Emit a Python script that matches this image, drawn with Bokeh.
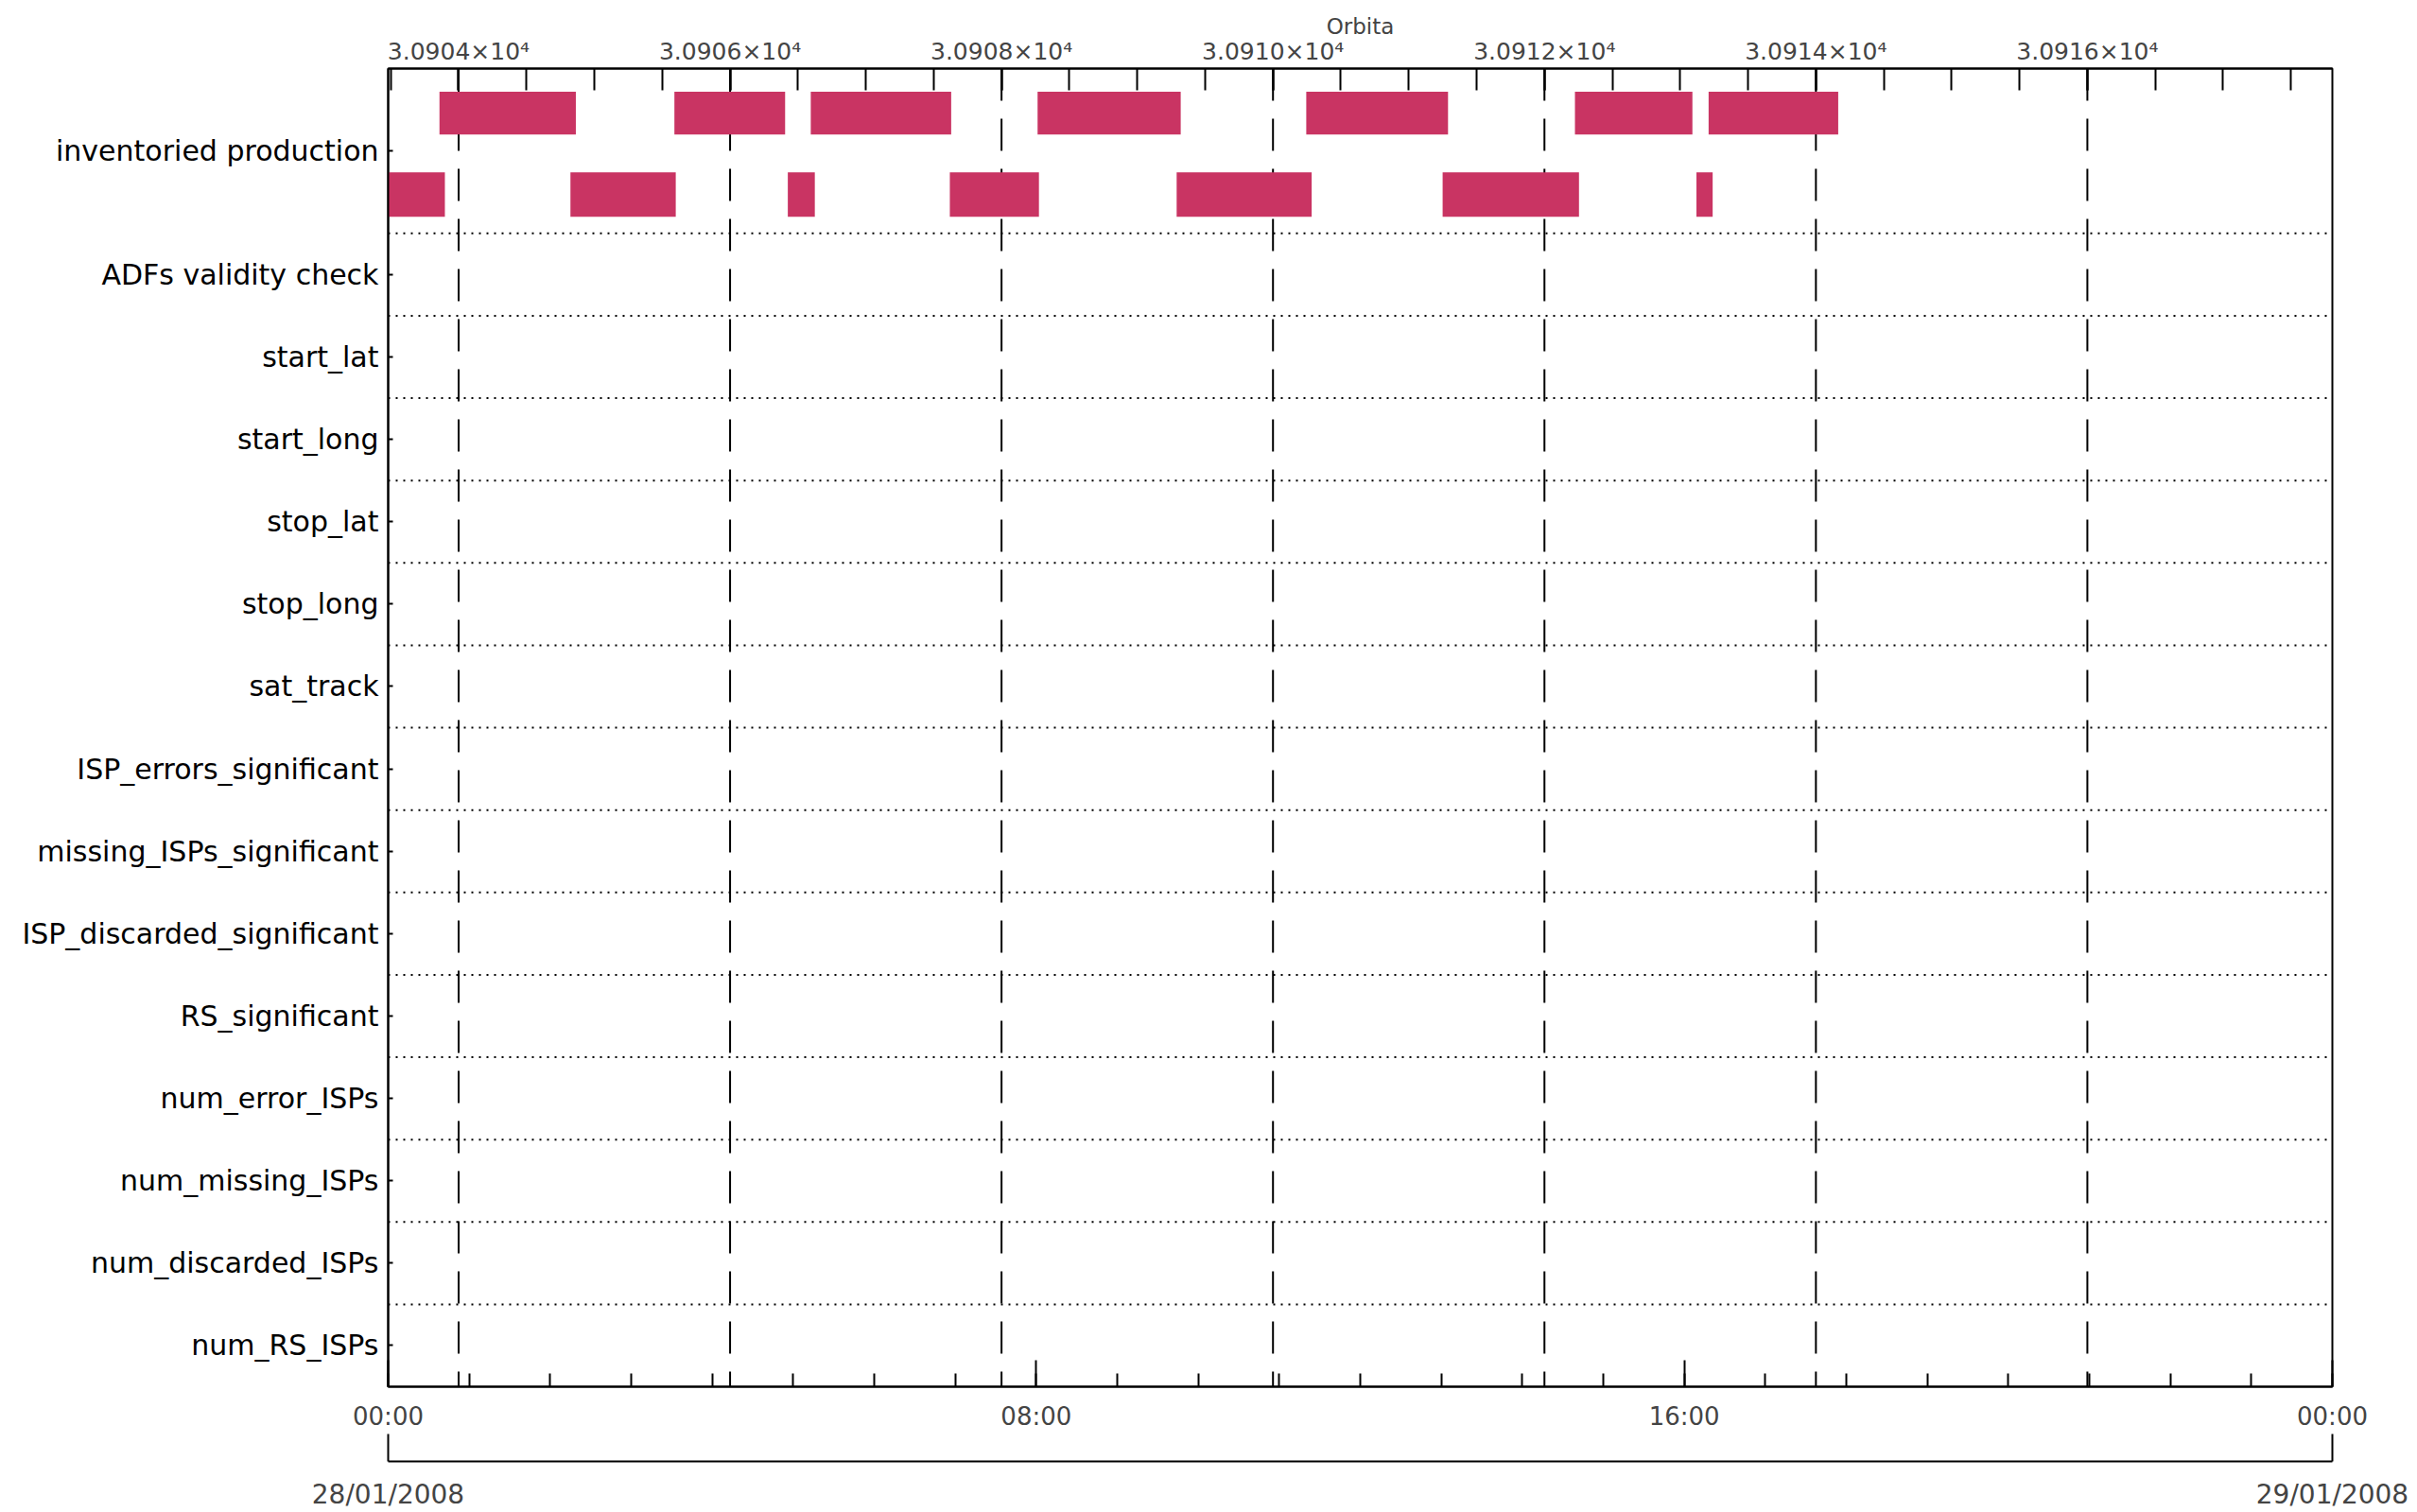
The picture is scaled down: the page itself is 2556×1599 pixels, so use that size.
from bokeh.plotting import figure
from bokeh.models import Range1d, LinearAxis, FixedTicker
from bokeh.embed import file_html
from bokeh.resources import INLINE

# ---------------- data ----------------
rows = ["inventoried production", "ADFs validity check", "start_lat", "start_long",
        "stop_lat", "stop_long", "sat_track", "ISP_errors_significant",
        "missing_ISPs_significant", "ISP_discarded_significant", "RS_significant",
        "num_error_ISPs", "num_missing_ISPs", "num_discarded_ISPs", "num_RS_ISPs"]
row_heights = [2] + [1] * 14

# inventoried production intervals (28/01/2008, HH:MM), two alternating lanes
upper_start = ["00:38", "03:32", "05:13", "08:01", "11:20", "14:39", "16:18"]
upper_end   = ["02:19", "04:54", "06:57", "09:47", "13:05", "16:06", "17:54"]
lower_start = ["00:00", "02:15", "04:56", "06:56", "09:44", "13:01", "16:09"]
lower_end   = ["00:42", "03:33", "05:16", "08:02", "11:24", "14:42", "16:21"]

time_ticks = [0, 8, 16, 24]
time_labels = ["00:00", "08:00", "16:00", "00:00"]
date_labels = ["28/01/2008", "29/01/2008"]

# orbit reference: orbit 30904 at 00:52 (hours 0.8696), period 100.53 min
orbit_ref = 30904
orbit_ref_hour = 0.8696
orbit_period_h = 100.53 / 60.0
orbit_label_ticks = [30904, 30906, 30908, 30910, 30912, 30914, 30916]
orbit_labels = ["3.0904×10⁴", "3.0906×10⁴", "3.0908×10⁴", "3.0910×10⁴",
                "3.0912×10⁴", "3.0914×10⁴", "3.0916×10⁴"]


def hm(s):
    h, m = s.split(":")
    return int(h) + int(m) / 60.0


def orbit_at(hour):
    return orbit_ref + (hour - orbit_ref_hour) / orbit_period_h


FONT = "DejaVu Sans"
BAR = "#C93463"

W, H = 2552, 1599
p = figure(width=W, height=H, x_range=Range1d(0, 24), y_range=Range1d(0, sum(row_heights)),
           output_backend="svg", toolbar_location=None,
           x_axis_location=None, y_axis_location=None,
           min_border_left=410, min_border_right=W - 2466, min_border_top=72,
           min_border_bottom=H - 1466)
p.xgrid.visible = False
p.ygrid.visible = False
p.outline_line_color = "black"
p.outline_line_width = 2
p.background_fill_color = "white"
p.border_fill_color = "white"

p.extra_x_ranges = {"orbit": Range1d(orbit_at(0), orbit_at(24))}

# row geometry
total = sum(row_heights)
tops = []
acc = total
for h in row_heights:
    tops.append(acc)
    acc -= h
centers = [t - h / 2 for t, h in zip(tops, row_heights)]
separators = [t - h for t, h in zip(tops[:-1], row_heights[:-1])]

# dotted separators
p.segment(x0=[0] * len(separators), x1=[24] * len(separators), y0=separators, y1=separators,
          line_color="black", line_width=2, line_dash="2 6")

# dashed orbit lines (drawn top to bottom)
p.segment(x0=orbit_label_ticks, x1=orbit_label_ticks, y0=[total] * len(orbit_label_ticks),
          y1=[0] * len(orbit_label_ticks), x_range_name="orbit",
          line_color="black", line_width=2, line_dash="34 19")

# bars
c = centers[0]
p.quad(left=[hm(s) for s in upper_start], right=[hm(s) for s in upper_end],
       bottom=c + 0.20, top=c + 0.72, fill_color=BAR, line_color=None)
p.quad(left=[hm(s) for s in lower_start], right=[hm(s) for s in lower_end],
       bottom=c - 0.80, top=c - 0.26, fill_color=BAR, line_color=None)

# left axis
yax = LinearAxis(ticker=FixedTicker(ticks=centers, minor_ticks=[]),
                 major_label_overrides={v: r for v, r in zip(centers, rows)})
yax.major_tick_in = 5
yax.major_tick_out = 0
yax.minor_tick_in = 0
yax.minor_tick_out = 0
yax.axis_line_width = 2
yax.major_tick_line_width = 2
yax.major_label_standoff = 10
yax.major_label_text_font = FONT
yax.major_label_text_font_size = "30px"
yax.major_label_text_color = "black"
p.add_layout(yax, "left")

# bottom time axis
xax = LinearAxis(ticker=FixedTicker(ticks=time_ticks, minor_ticks=list(range(0, 25))),
                 major_label_overrides={t: l for t, l in zip(time_ticks, time_labels)})
xax.major_tick_in = 28
xax.major_tick_out = 0
xax.minor_tick_in = 14
xax.minor_tick_out = 0
xax.axis_line_width = 2
xax.major_tick_line_width = 2
xax.minor_tick_line_width = 2
xax.major_label_standoff = 16
xax.major_label_text_font = FONT
xax.major_label_text_font_size = "26px"
xax.axis_label = " "
xax.axis_label_standoff = 2
xax.axis_label_text_font_size = "22px"
p.add_layout(xax, "below")

# bottom date axis
dax = LinearAxis(ticker=FixedTicker(ticks=[0, 24], minor_ticks=[]),
                 major_label_overrides={0: date_labels[0], 24: date_labels[1]})
dax.major_tick_in = 29
dax.major_tick_out = 0
dax.minor_tick_in = 0
dax.minor_tick_out = 0
dax.axis_line_width = 2
dax.major_tick_line_width = 2
dax.major_label_standoff = 18
dax.major_label_text_font = FONT
dax.major_label_text_font_size = "28px"
p.add_layout(dax, "below")

# top orbit axis
minor_orbit = [30903.5 + 0.5 * i for i in range(29)]
oax = LinearAxis(x_range_name="orbit",
                 ticker=FixedTicker(ticks=orbit_label_ticks, minor_ticks=minor_orbit),
                 major_label_overrides={t: l for t, l in zip(orbit_label_ticks, orbit_labels)})
oax.major_tick_in = 23
oax.major_tick_out = 0
oax.minor_tick_in = 23
oax.minor_tick_out = 0
oax.axis_line_width = 2
oax.major_tick_line_width = 2
oax.minor_tick_line_width = 2
oax.major_label_standoff = 4
oax.major_label_text_font = FONT
oax.major_label_text_font_size = "25px"
oax.axis_label = "Orbita"
oax.axis_label_standoff = -4
oax.axis_label_text_font = FONT
oax.axis_label_text_font_size = "23px"
oax.axis_label_text_font_style = "normal"
p.add_layout(oax, "above")

open("out.html", "w").write(file_html(p, INLINE))
